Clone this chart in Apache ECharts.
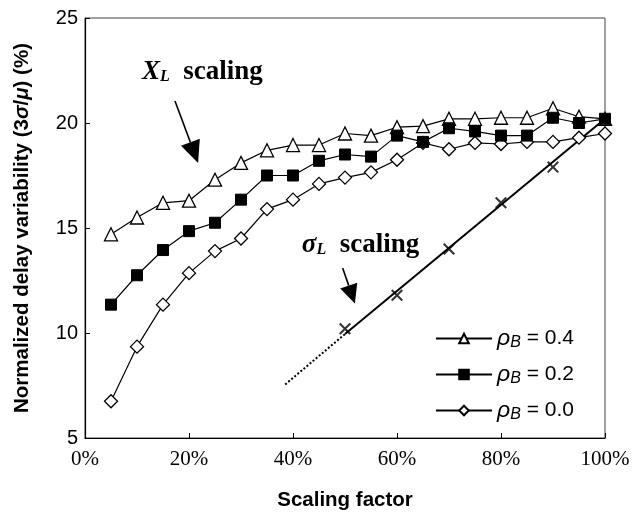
<!DOCTYPE html>
<html><head><meta charset="utf-8">
<script src="https://cdn.jsdelivr.net/npm/echarts@6/dist/echarts.min.js"></script>
<style>html,body{margin:0;padding:0;background:#fff}#c{width:636px;height:516px}</style>
</head><body><div id="c"></div>
<script>
var xPct = [5,10,15,20,25,30,35,40,45,50,55,60,65,70,75,80,85,90,95,100];
var rho04 = [14.7,15.5,16.2,16.3,17.3,18.1,18.7,18.95,18.95,19.5,19.4,19.8,19.85,20.2,20.2,20.25,20.25,20.7,20.3,20.2];
var rho02 = [11.35,12.75,13.95,14.85,15.25,16.35,17.5,17.5,18.2,18.5,18.4,19.4,19.1,19.75,19.6,19.4,19.4,20.25,20.0,20.2];
var rho00 = [6.75,9.35,11.35,12.85,13.9,14.5,15.9,16.35,17.1,17.4,17.65,18.25,19.05,18.75,19.05,19.0,19.1,19.1,19.3,19.5];
var sigX = [50,60,70,80,90,100];
var sigY = [10.2,11.8,14.0,16.2,17.9,20.2];
var fitSolidX = [50,100], fitSolidY = [9.95,20.2];
var fitDotX = [38.5,50], fitDotY = [7.55,9.95];
var yTicks = [5,10,15,20,25];
var xTicks = [0,20,40,60,80,100];
var legendNames = ['ρB = 0.4','ρB = 0.2','ρB = 0.0'];

function pairs(xs, ys){ return xs.map(function(x,i){ return [x, ys[i]]; }); }
var SANS = 'Liberation Sans, Arial, sans-serif';
var SERIF = 'Liberation Serif, Times New Roman, serif';
var xMark = 'path://M0,1.2L1.2,0L5,3.8L8.8,0L10,1.2L6.2,5L10,8.8L8.8,10L5,6.2L1.2,10L0,8.8L3.8,5Z';

var chart = echarts.init(document.getElementById('c'), null, {renderer:'canvas'});
var lineBase = {type:'line', lineStyle:{color:'#000', width:1.2}, animation:false};
chart.setOption({
  backgroundColor:'#fff',
  animation:false,
  grid:{left:85, right:31, top:18, bottom:75, show:true, borderColor:'#444', borderWidth:1},
  xAxis:{type:'value', min:0, max:100, interval:20,
    axisLine:{lineStyle:{color:'#000', width:1.2}},
    axisTick:{inside:true, length:5, lineStyle:{color:'#000'}},
    splitLine:{show:false},
    axisLabel:{formatter:function(v){return v+'%';}, fontFamily:SERIF, fontSize:21, color:'#000', margin:11},
    name:'Scaling factor', nameLocation:'middle', nameGap:52,
    nameTextStyle:{fontFamily:SANS, fontWeight:'bold', fontSize:20.5, color:'#000'}
  },
  yAxis:{type:'value', min:5, max:25, interval:5,
    axisLine:{show:true, lineStyle:{color:'#000', width:1.2}},
    axisTick:{show:true, inside:true, length:5, lineStyle:{color:'#000'}},
    splitLine:{show:false},
    axisLabel:{fontFamily:SANS, fontSize:20, color:'#000', margin:7},
    name:'Normalized delay variability (3{i|σ}/{i|μ}) (%)', nameLocation:'middle', nameGap:52,
    nameTextStyle:{fontFamily:SANS, fontWeight:'bold', fontSize:20.5, color:'#000',
      rich:{i:{fontFamily:SANS, fontWeight:'bold', fontStyle:'italic', fontSize:20.5, color:'#000'}}}
  },
  legend:{show:true, orient:'vertical', left:430, top:322, itemGap:12, itemWidth:56, itemHeight:12,
    data:legendNames,
    formatter:function(n){ var v=n.split('= ')[1]; return '{r|ρ}{s|B}{t| = '+v+'}'; },
    textStyle:{fontFamily:SANS, fontSize:21, color:'#000',
      rich:{r:{fontFamily:SANS, fontStyle:'italic', fontSize:23, color:'#000'},
            s:{fontFamily:SANS, fontStyle:'italic', fontSize:16, color:'#000', verticalAlign:'bottom', padding:[9,0,0,0]},
            t:{fontFamily:SANS, fontSize:21, color:'#000'}}}
  },
  series:[
    Object.assign({}, lineBase, {name:legendNames[0], data:pairs(xPct,rho04), symbol:'triangle', symbolSize:13,
      itemStyle:{color:'#fff', borderColor:'#000', borderWidth:1.3}, z:3}),
    Object.assign({}, lineBase, {name:legendNames[1], data:pairs(xPct,rho02), symbol:'rect', symbolSize:11,
      itemStyle:{color:'#000', borderColor:'#000', borderWidth:1}, z:4}),
    Object.assign({}, lineBase, {name:legendNames[2], data:pairs(xPct,rho00), symbol:'diamond', symbolSize:13,
      itemStyle:{color:'#fff', borderColor:'#000', borderWidth:1.3}, z:3}),
    {type:'line', name:'fit', data:pairs(fitSolidX,fitSolidY), symbol:'none', lineStyle:{color:'#000', width:2}, z:2},
    {type:'line', name:'fitDot', data:pairs(fitDotX,fitDotY), symbol:'none', lineStyle:{color:'#000', width:2, type:[2,2]}, z:2},
    {type:'scatter', name:'sigma', data:pairs(sigX,sigY), symbol:xMark, symbolSize:12,
      itemStyle:{color:'#000'}, z:5}
  ]
});

function px(x,y){ return chart.convertToPixel({gridIndex:0},[x,y]); }
function arrow(p0,p1,hl,hw){
  var dx=p1[0]-p0[0], dy=p1[1]-p0[1], L=Math.sqrt(dx*dx+dy*dy), ux=dx/L, uy=dy/L;
  var bx=p1[0]-ux*hl, by=p1[1]-uy*hl;
  return [
    {type:'line', shape:{x1:p0[0],y1:p0[1],x2:bx,y2:by}, style:{stroke:'#000', lineWidth:1.6}},
    {type:'polygon', shape:{points:[[p1[0],p1[1]],[bx-uy*hw,by+ux*hw],[bx+uy*hw,by-ux*hw]]}, style:{fill:'#000'}}
  ];
}
var a1 = arrow(px(17.3,21.05), px(21.75,18.1), 22, 10);
var a2 = arrow(px(49.55,13.1), px(51.9,11.4), 19, 9);
var t1 = px(10.95,22.45), t2 = px(41.7,14.2);
var richT = {
  b:{fontFamily:SERIF, fontWeight:'bold', fontStyle:'italic', fontSize:27, fill:'#000'},
  s:{fontFamily:SERIF, fontWeight:'bold', fontStyle:'italic', fontSize:16, fill:'#000', verticalAlign:'bottom', padding:[11,0,0,0]},
  n:{fontFamily:SERIF, fontWeight:'bold', fontSize:27, fill:'#000'}
};
chart.setOption({graphic:[
  {type:'text', x:t1[0], y:t1[1], style:{text:'{b|X}{s|L}{n|  scaling}', rich:richT, textVerticalAlign:'middle'}},
  {type:'text', x:t2[0], y:t2[1], style:{text:'{b|σ}{s|L}{n|  scaling}', rich:richT, textVerticalAlign:'middle'}}
].concat(a1).concat(a2)});
</script>
</body></html>
